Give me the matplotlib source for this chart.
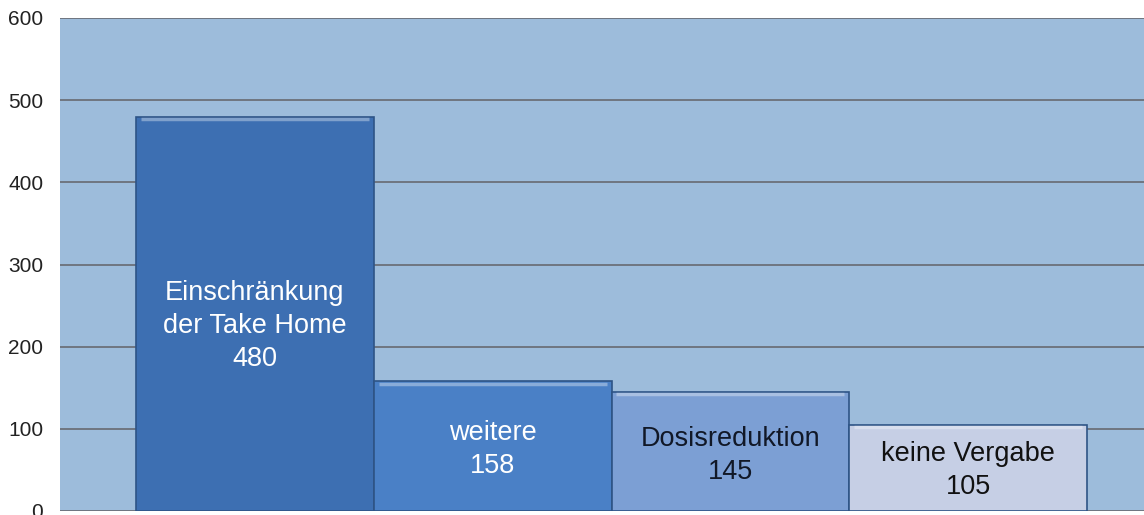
import matplotlib
matplotlib.use("Agg")
import matplotlib.pyplot as plt
import numpy as np

# Daten
categories = ["Einschränkung\nder Take Home", "weitere", "Dosisreduktion", "keine Vergabe"]
values = [480, 158, 145, 105]
bar_colors = ["#3d6fb2", "#4a80c6", "#7c9fd4", "#c6cfe5"]
text_colors = ["white", "white", "#111827", "#111111"]
yticks = [0, 100, 200, 300, 400, 500, 600]

plt.rcParams["font.family"] = ["Liberation Sans", "DejaVu Sans"]

fig = plt.figure(figsize=(11.44, 5.15), dpi=100)
ax = fig.add_axes([60 / 1144, 4 / 515, 1 - 60 / 1144, 1 - 22 / 515])
ax.set_facecolor("#9dbcdb")

x = np.arange(len(values))
bars = ax.bar(x, values, width=1.0, color=bar_colors, edgecolor="#2e5486",
              linewidth=1.2, zorder=3)

# heller Rand oben auf den Balken
for b in bars:
    ax.plot([b.get_x() + 0.02, b.get_x() + b.get_width() - 0.02],
            [b.get_height() - 3, b.get_height() - 3],
            color="white", alpha=0.35, lw=2.5, zorder=4, solid_capstyle="butt")

for xi, v, lab, tc in zip(x, values, categories, text_colors):
    ax.text(xi, v * 0.47, f"{lab}\n{v}", ha="center", va="center",
            color=tc, fontsize=19.5, linespacing=1.35, zorder=5)

ax.set_xlim(-0.82, 3.74)
ax.set_ylim(0, 600)
ax.set_yticks(yticks)
ax.tick_params(axis="y", length=0, labelsize=15, pad=12, labelcolor="#222222")
ax.set_xticks([])
ax.grid(axis="y", color="#6f7680", linewidth=1.4, zorder=1)
for s in ax.spines.values():
    s.set_visible(False)

fig.savefig("out.png", dpi=100)
